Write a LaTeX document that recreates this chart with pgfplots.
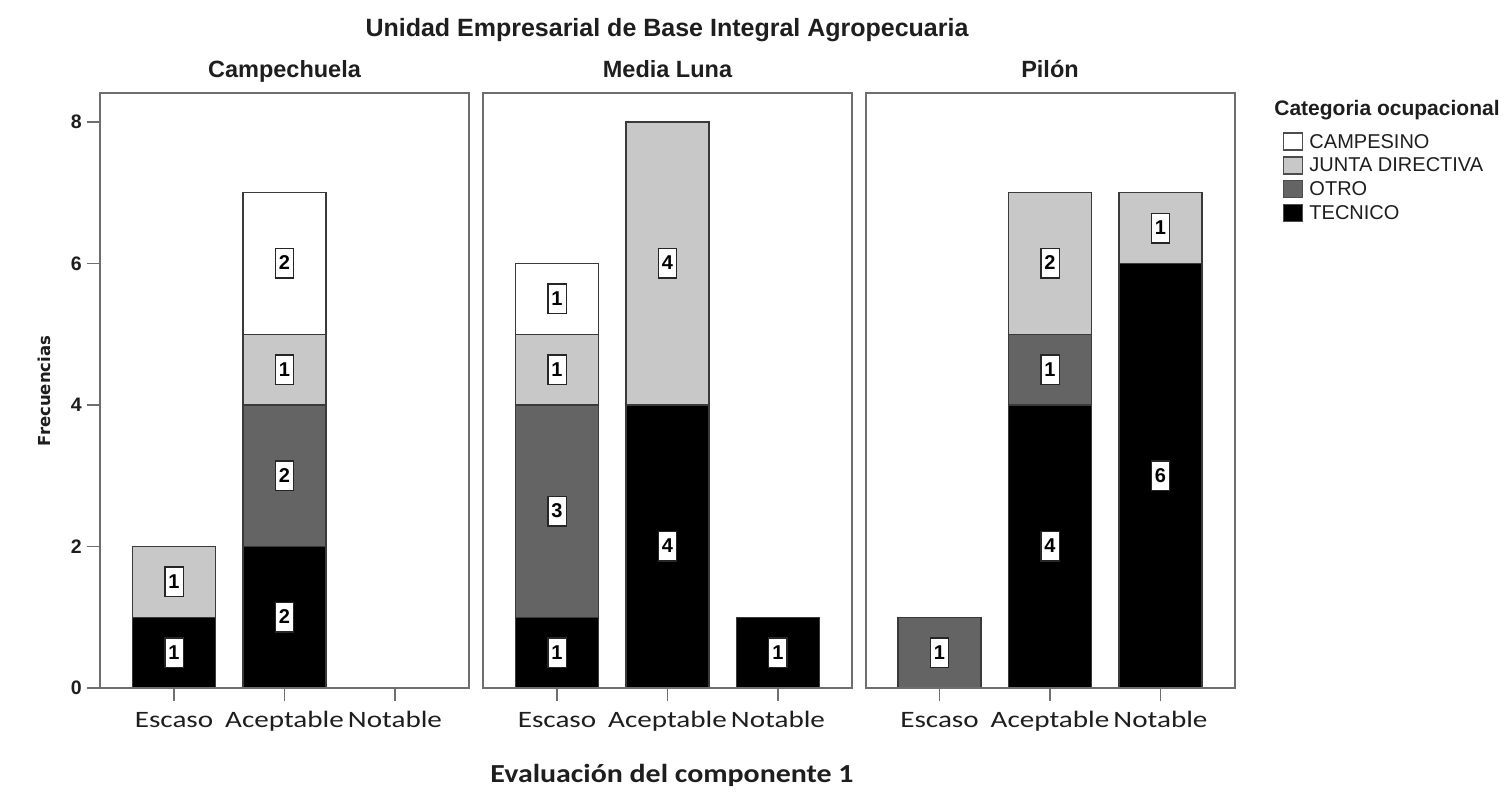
\documentclass[border=0pt]{standalone}
\usepackage{fontspec}
\setmainfont{Liberation Sans}
\newfontfamily\tickfont[FakeStretch=1.24]{Carlito}
\newfontfamily\labelfont[FakeStretch=1.15]{Carlito}
\newfontfamily\widebold{DejaVu Sans}
\usepackage{pgfplots}
\usepackage{pgfplotstable}
\pgfplotsset{compat=1.18}

\definecolor{framegray}{HTML}{6E6E6E}
\definecolor{campesino}{HTML}{FFFFFF}
\definecolor{junta}{HTML}{C8C8C8}
\definecolor{otro}{HTML}{646464}
\definecolor{tecnico}{HTML}{000000}
\definecolor{edge}{HTML}{3A3A3A}
\definecolor{ink}{HTML}{1E1E1E}

% frequencies per evaluation level (0 Escaso, 1 Aceptable, 2 Notable)
\pgfplotstableread{
x TEC OTRO JUNTA CAMP
0 1 0 1 0
1 2 2 1 2
2 0 0 0 0
}\campechuela
\pgfplotstableread{
x TEC OTRO JUNTA CAMP
0 1 3 1 1
1 4 0 4 0
2 1 0 0 0
}\medialuna
\pgfplotstableread{
x TEC OTRO JUNTA CAMP
0 0 1 0 0
1 4 1 2 0
2 6 0 1 0
}\pilon

\newcommand\valbox[1]{{\setlength\fboxsep{0pt}\setlength\fboxrule{1.4bp}%
  \fcolorbox{black!85}{white}{\makebox[17bp]{\rule[-7.5bp]{0pt}{28bp}%
  \fontsize{20bp}{20bp}\selectfont\bfseries #1}}}}

\pgfplotsset{
  boxlegend/.style={legend image code/.code={%
    \draw[#1, draw=black!70, line width=1.3bp] (0bp,-8.5bp) rectangle (19bp,8.5bp);}},
  seg/.style={draw=edge, line width=1.2bp, fill=#1, boxlegend},
  panel/.style={
    scale only axis, width=369bp, y=70.75bp,
    xmin=-0.67, xmax=2.67, ymin=0, ymax=8.41,
    ybar stacked, bar width=83bp,
    axis on top,
    axis line style={framegray, line width=2bp},
    tick style={framegray, line width=1.6bp},
    tick align=outside, major tick length=13bp,
    xtick={0,1,2}, xticklabels={Escaso,Aceptable,Notable},
    xtick pos=bottom, ytick pos=left,
    xticklabel style={font=\tickfont\fontsize{23.5bp}{24bp}\selectfont, text=ink,
      inner sep=0pt, text height=15bp, text depth=5bp},
    xticklabel shift=11bp,
    title style={font=\bfseries\fontsize{23.5bp}{24bp}\selectfont, text=ink,
      at={(0.5,1)}, anchor=base, yshift=9.6bp, inner sep=0pt},
    % value boxes sit at the middle of each segment; empty segments get none
    point meta=explicit symbolic,
    nodes near coords={\ifnum\pgfplotspointmeta>0 \valbox{\pgfplotspointmeta}\fi},
    every node near coord/.append style={anchor=center, inner sep=0pt},
  },
}

\begin{document}
\begin{tikzpicture}
\path[use as bounding box] (0,0) rectangle (1512bp,809bp);

\node[font=\bfseries\fontsize{25bp}{26bp}\selectfont, text=ink] at (667bp,779bp)
  {Unidad Empresarial de Base Integral Agropecuaria};

% Campechuela
\begin{axis}[panel, at={(100bp,121bp)}, anchor=south west,
  title={Campechuela},
  ytick={0,2,4,6,8},
  /pgf/number format/assume math mode=true,
  yticklabel style={font=\bfseries\fontsize{19.5bp}{20bp}\selectfont, text=ink, inner sep=0pt},
  yticklabel shift=5bp,
]
\addplot[seg=tecnico] table[x=x,y=TEC,meta=TEC] {\campechuela};
\addplot[seg=otro] table[x=x,y=OTRO,meta=OTRO] {\campechuela};
\addplot[seg=junta] table[x=x,y=JUNTA,meta=JUNTA] {\campechuela};
\addplot[seg=campesino] table[x=x,y=CAMP,meta=CAMP] {\campechuela};
\end{axis}

% Media Luna
\begin{axis}[panel, at={(483bp,121bp)}, anchor=south west,
  title={Media Luna}, ytick=\empty]
\addplot[seg=tecnico] table[x=x,y=TEC,meta=TEC] {\medialuna};
\addplot[seg=otro] table[x=x,y=OTRO,meta=OTRO] {\medialuna};
\addplot[seg=junta] table[x=x,y=JUNTA,meta=JUNTA] {\medialuna};
\addplot[seg=campesino] table[x=x,y=CAMP,meta=CAMP] {\medialuna};
\end{axis}

% Pilón
\begin{axis}[panel, at={(865.5bp,121bp)}, anchor=south west,
  title={Pilón}, ytick=\empty,
  reverse legend,
  legend cell align=left,
  legend style={at={(axis description cs:1.1314,0.934)}, anchor=north west,
    draw=none, fill=none, inner sep=0pt, row sep=5.5bp,
    font=\fontsize{20bp}{21bp}\selectfont, text=ink,
    nodes={inner sep=0pt, text height=15bp, text depth=2bp},
    /tikz/every odd column/.append style={column sep=6bp}},
]
\addplot[seg=tecnico] table[x=x,y=TEC,meta=TEC] {\pilon};
\addplot[seg=otro] table[x=x,y=OTRO,meta=OTRO] {\pilon};
\addplot[seg=junta] table[x=x,y=JUNTA,meta=JUNTA] {\pilon};
\addplot[seg=campesino] table[x=x,y=CAMP,meta=CAMP] {\pilon};
\legend{TECNICO,OTRO,JUNTA DIRECTIVA,CAMPESINO}
\end{axis}

\node[font=\bfseries\fontsize{21bp}{22bp}\selectfont, text=ink] at (1387bp,699bp)
  {Categoria ocupacional};

\node[rotate=90, font=\widebold\bfseries\fontsize{16.5bp}{17bp}\selectfont, text=ink] at (44.5bp,418bp)
  {Frecuencias};

\node[font=\labelfont\bfseries\fontsize{26bp}{27bp}\selectfont, text=ink] at (672bp,34bp)
  {Evaluación del componente 1};
\end{tikzpicture}
\end{document}
